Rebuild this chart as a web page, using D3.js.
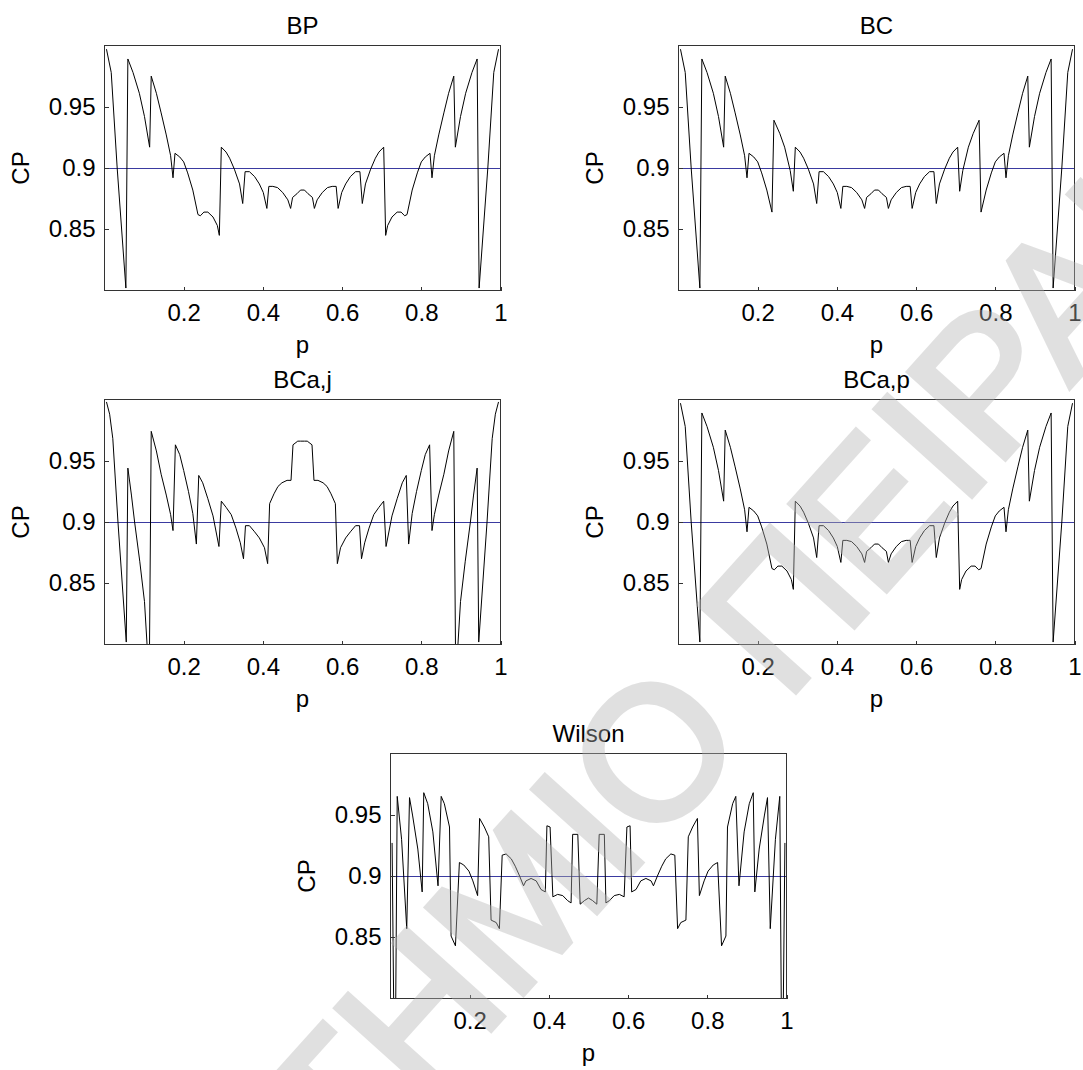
<!DOCTYPE html>
<html>
<head>
<meta charset="utf-8">
<script src="https://cdn.jsdelivr.net/npm/d3@7"></script>
<style>
  body { margin: 0; background: #fff; }
  text { font-family: "Liberation Sans", Arial, sans-serif; }
</style>
</head>
<body>
<div id="chart"></div>
<script>
// ticks and reference level
var xTicks = [0.2, 0.4, 0.6, 0.8, 1];
var yTicks = [0.85, 0.9, 0.95];
var nominal = 0.9;
var titles = ["BP", "BC", "BCa,j", "BCa,p", "Wilson"];

// coverage probability curves, [p, CP]
var bpData = [[0.005,0.997],[0.017,0.978],[0.032,0.900],[0.054,0.802],[0.059,0.989],[0.072,0.978],[0.088,0.961],[0.101,0.942],[0.114,0.917],[0.118,0.975],[0.131,0.961],[0.143,0.945],[0.156,0.927],[0.167,0.910],[0.173,0.892],[0.178,0.912],[0.19,0.909],[0.2,0.905],[0.21,0.896],[0.223,0.882],[0.236,0.862],[0.242,0.861],[0.251,0.864],[0.261,0.864],[0.274,0.860],[0.285,0.853],[0.290,0.845],[0.295,0.917],[0.307,0.913],[0.316,0.908],[0.328,0.899],[0.341,0.887],[0.349,0.871],[0.355,0.897],[0.366,0.897],[0.379,0.893],[0.391,0.887],[0.401,0.880],[0.410,0.867],[0.415,0.885],[0.425,0.885],[0.437,0.884],[0.45,0.880],[0.463,0.874],[0.470,0.867],[0.475,0.876],[0.486,0.879],[0.495,0.882],
  [0.505,0.882],[0.514,0.879],[0.525,0.876],[0.530,0.867],[0.537,0.874],[0.55,0.880],[0.563,0.884],[0.575,0.885],[0.585,0.885],[0.590,0.867],[0.599,0.880],[0.609,0.887],[0.621,0.893],[0.634,0.897],[0.645,0.897],[0.651,0.871],[0.659,0.887],[0.672,0.899],[0.684,0.908],[0.693,0.913],[0.705,0.917],[0.710,0.845],[0.715,0.853],[0.726,0.860],[0.739,0.864],[0.749,0.864],[0.758,0.861],[0.764,0.862],[0.777,0.882],[0.79,0.896],[0.8,0.905],[0.81,0.909],[0.822,0.912],[0.827,0.892],[0.833,0.910],[0.844,0.927],[0.857,0.945],[0.869,0.961],[0.882,0.975],[0.886,0.917],[0.899,0.942],[0.912,0.961],[0.928,0.978],[0.941,0.989],[0.946,0.802],[0.968,0.900],[0.983,0.978],[0.995,0.997]];

var bcData = [[0.005,0.997],[0.017,0.978],[0.032,0.900],[0.054,0.802],[0.059,0.989],[0.072,0.978],[0.088,0.961],[0.101,0.942],[0.114,0.917],[0.118,0.975],[0.131,0.961],[0.143,0.945],[0.156,0.927],[0.167,0.910],[0.173,0.892],[0.178,0.912],[0.19,0.909],[0.2,0.905],[0.21,0.896],[0.223,0.882],[0.236,0.864],[0.241,0.939],[0.256,0.928],[0.268,0.917],[0.282,0.898],[0.290,0.881],[0.295,0.917],[0.307,0.913],[0.316,0.908],[0.328,0.899],[0.341,0.887],[0.349,0.871],[0.355,0.897],[0.366,0.897],[0.379,0.893],[0.391,0.887],[0.401,0.880],[0.410,0.867],[0.415,0.885],[0.425,0.885],[0.437,0.884],[0.45,0.880],[0.463,0.874],[0.470,0.867],[0.475,0.876],[0.486,0.879],[0.495,0.882],
  [0.505,0.882],[0.514,0.879],[0.525,0.876],[0.530,0.867],[0.537,0.874],[0.55,0.880],[0.563,0.884],[0.575,0.885],[0.585,0.885],[0.590,0.867],[0.599,0.880],[0.609,0.887],[0.621,0.893],[0.634,0.897],[0.645,0.897],[0.651,0.871],[0.659,0.887],[0.672,0.899],[0.684,0.908],[0.693,0.913],[0.705,0.917],[0.710,0.881],[0.718,0.898],[0.732,0.917],[0.744,0.928],[0.759,0.939],[0.764,0.864],[0.777,0.882],[0.79,0.896],[0.8,0.905],[0.81,0.909],[0.822,0.912],[0.827,0.892],[0.833,0.910],[0.844,0.927],[0.857,0.945],[0.869,0.961],[0.882,0.975],[0.886,0.917],[0.899,0.942],[0.912,0.961],[0.928,0.978],[0.941,0.989],[0.946,0.802],[0.968,0.900],[0.983,0.978],[0.995,0.997]];

var bcajData = [[0.005,0.998],[0.013,0.988],[0.021,0.968],[0.034,0.900],[0.055,0.802],[0.059,0.944],[0.068,0.922],[0.076,0.900],[0.089,0.868],[0.101,0.835],[0.113,0.770],[0.118,0.974],[0.131,0.958],[0.143,0.939],[0.156,0.922],[0.167,0.906],[0.173,0.893],[0.179,0.963],[0.19,0.955],[0.2,0.942],[0.212,0.925],[0.223,0.907],[0.232,0.882],[0.238,0.938],[0.248,0.932],[0.261,0.919],[0.274,0.905],[0.289,0.880],[0.295,0.917],[0.307,0.912],[0.320,0.906],[0.332,0.895],[0.343,0.883],[0.351,0.870],[0.356,0.897],[0.366,0.897],[0.379,0.892],[0.391,0.887],[0.404,0.879],[0.412,0.866],[0.417,0.915],[0.428,0.923],[0.438,0.929],[0.448,0.932],[0.461,0.934],[0.471,0.934],[0.476,0.963],[0.488,0.966],[0.495,0.966],
  [0.505,0.966],[0.512,0.966],[0.524,0.963],[0.529,0.934],[0.539,0.934],[0.552,0.932],[0.562,0.929],[0.572,0.923],[0.583,0.915],[0.588,0.866],[0.596,0.879],[0.609,0.887],[0.621,0.892],[0.634,0.897],[0.644,0.897],[0.649,0.870],[0.657,0.883],[0.668,0.895],[0.680,0.906],[0.693,0.912],[0.705,0.917],[0.711,0.880],[0.726,0.905],[0.739,0.919],[0.752,0.932],[0.762,0.938],[0.768,0.882],[0.777,0.907],[0.788,0.925],[0.8,0.942],[0.81,0.955],[0.821,0.963],[0.827,0.893],[0.833,0.906],[0.844,0.922],[0.857,0.939],[0.869,0.958],[0.882,0.974],[0.887,0.770],[0.899,0.835],[0.911,0.868],[0.924,0.900],[0.932,0.922],[0.941,0.944],[0.945,0.802],[0.966,0.900],[0.979,0.968],[0.987,0.988],[0.995,0.998]];

var bcapData = [[0.005,0.997],[0.017,0.978],[0.032,0.900],[0.054,0.802],[0.059,0.989],[0.072,0.978],[0.088,0.961],[0.101,0.942],[0.114,0.917],[0.118,0.975],[0.131,0.961],[0.143,0.945],[0.156,0.927],[0.167,0.910],[0.173,0.892],[0.178,0.912],[0.19,0.909],[0.2,0.905],[0.21,0.896],[0.223,0.882],[0.236,0.862],[0.242,0.861],[0.251,0.864],[0.261,0.864],[0.274,0.860],[0.285,0.853],[0.290,0.845],[0.295,0.917],[0.307,0.913],[0.316,0.908],[0.328,0.899],[0.341,0.887],[0.349,0.871],[0.355,0.897],[0.366,0.897],[0.379,0.893],[0.391,0.887],[0.401,0.880],[0.410,0.867],[0.415,0.885],[0.425,0.885],[0.437,0.884],[0.45,0.880],[0.463,0.874],[0.470,0.867],[0.475,0.876],[0.486,0.879],[0.495,0.882],
  [0.505,0.882],[0.514,0.879],[0.525,0.876],[0.530,0.867],[0.537,0.874],[0.55,0.880],[0.563,0.884],[0.575,0.885],[0.585,0.885],[0.590,0.867],[0.599,0.880],[0.609,0.887],[0.621,0.893],[0.634,0.897],[0.645,0.897],[0.651,0.871],[0.659,0.887],[0.672,0.899],[0.684,0.908],[0.693,0.913],[0.705,0.917],[0.710,0.845],[0.715,0.853],[0.726,0.860],[0.739,0.864],[0.749,0.864],[0.758,0.861],[0.764,0.862],[0.777,0.882],[0.79,0.896],[0.8,0.905],[0.81,0.909],[0.822,0.912],[0.827,0.892],[0.833,0.910],[0.844,0.927],[0.857,0.945],[0.869,0.961],[0.882,0.975],[0.886,0.917],[0.899,0.942],[0.912,0.961],[0.928,0.978],[0.941,0.989],[0.946,0.802],[0.968,0.900],[0.983,0.978],[0.995,0.997]];

var wilsonData = [[0.004,0.927],[0.011,0.700],[0.017,0.965],[0.028,0.930],[0.041,0.857],[0.048,0.964],[0.056,0.949],[0.069,0.922],[0.080,0.887],[0.084,0.968],[0.094,0.959],[0.107,0.936],[0.120,0.892],[0.128,0.965],[0.136,0.959],[0.149,0.940],[0.153,0.851],[0.164,0.843],[0.174,0.911],[0.185,0.909],[0.198,0.904],[0.208,0.896],[0.220,0.884],[0.225,0.947],[0.237,0.940],[0.248,0.932],[0.254,0.864],[0.267,0.862],[0.275,0.857],[0.282,0.917],[0.292,0.918],[0.305,0.914],[0.315,0.908],[0.326,0.900],[0.336,0.892],[0.342,0.896],[0.355,0.898],[0.368,0.896],[0.380,0.889],[0.391,0.887],[0.395,0.941],[0.403,0.940],[0.410,0.883],[0.422,0.885],[0.435,0.884],[0.447,0.880],[0.456,0.878],[0.460,0.934],[0.473,0.934],[0.479,0.877],[0.490,0.880],[0.500,0.882],
  [0.510,0.880],[0.521,0.877],[0.527,0.934],[0.540,0.934],[0.544,0.878],[0.553,0.880],[0.565,0.884],[0.578,0.885],[0.590,0.883],[0.597,0.940],[0.605,0.941],[0.609,0.887],[0.620,0.889],[0.632,0.896],[0.645,0.898],[0.658,0.896],[0.664,0.892],[0.674,0.900],[0.685,0.908],[0.695,0.914],[0.708,0.918],[0.718,0.917],[0.725,0.857],[0.733,0.862],[0.746,0.864],[0.752,0.932],[0.763,0.940],[0.775,0.947],[0.780,0.884],[0.792,0.896],[0.802,0.904],[0.815,0.909],[0.826,0.911],[0.836,0.843],[0.847,0.851],[0.851,0.940],[0.864,0.959],[0.872,0.965],[0.880,0.892],[0.893,0.936],[0.906,0.959],[0.916,0.968],[0.920,0.887],[0.931,0.922],[0.944,0.949],[0.952,0.964],[0.959,0.857],[0.972,0.930],[0.983,0.965],[0.989,0.700],[0.996,0.927]];

var watermarkWords = ["ΠΑΝΕΠΙΣΤΗΜΙΟ", "ΠΕΙΡΑΙΑ"];

var svgWidth = 1083;
var svgHeight = 1070;
var plotW = 396;
var plotH = 245;

var panels = [
  { title: titles[0], data: bpData,     left: 104.5, top: 45.5 },
  { title: titles[1], data: bcData,     left: 678.5, top: 45.5 },
  { title: titles[2], data: bcajData,   left: 104.5, top: 399.5 },
  { title: titles[3], data: bcapData,   left: 678.5, top: 399.5 },
  { title: titles[4], data: wilsonData, left: 390.5, top: 753.5 }
];

var svg = d3.select("#chart")
  .append("svg")
  .attr("width", svgWidth)
  .attr("height", svgHeight);

var xScale = d3.scaleLinear().domain([0, 1]).range([0, plotW]);
var yScale = d3.scaleLinear().domain([0.8, 1]).range([plotH, 0]);

var line = d3.line()
  .x(d => xScale(d[0]))
  .y(d => yScale(d[1]));

panels.forEach(function(panel, i) {
  var g = svg.append("g")
    .attr("transform", `translate(${panel.left},${panel.top})`);

  g.append("clipPath")
    .attr("id", "clip" + i)
    .append("rect")
    .attr("width", plotW)
    .attr("height", plotH);

  // nominal level
  g.append("line")
    .attr("x1", 0)
    .attr("x2", plotW)
    .attr("y1", Math.round(yScale(nominal)))
    .attr("y2", Math.round(yScale(nominal)))
    .attr("stroke", "#3a3aa0")
    .attr("stroke-width", 1);

  g.append("path")
    .datum(panel.data)
    .attr("clip-path", `url(#clip${i})`)
    .attr("d", line)
    .attr("fill", "none")
    .attr("stroke", "#000")
    .attr("stroke-width", 1);

  g.append("rect")
    .attr("width", plotW)
    .attr("height", plotH)
    .attr("fill", "none")
    .attr("stroke", "#333")
    .attr("shape-rendering", "crispEdges");

  var xAxis = g.append("g")
    .attr("transform", `translate(0,${plotH})`)
    .call(d3.axisBottom(xScale).tickValues(xTicks).tickSize(-4).tickPadding(13).tickFormat(d3.format("")));

  var yAxis = g.append("g")
    .call(d3.axisLeft(yScale).tickValues(yTicks).tickSize(-4).tickPadding(9).tickFormat(d3.format("")));

  [xAxis, yAxis].forEach(function(ax) {
    ax.select(".domain").remove();
    ax.selectAll("line").attr("stroke", "#333").attr("shape-rendering", "crispEdges");
    ax.selectAll("text")
      .attr("font-family", "Liberation Sans, Arial, sans-serif")
      .attr("font-size", "24px")
      .attr("fill", "#000");
  });

  g.append("text")
    .attr("x", plotW / 2)
    .attr("y", -12)
    .attr("text-anchor", "middle")
    .attr("font-size", "24px")
    .text(panel.title);

  g.append("text")
    .attr("x", plotW / 2)
    .attr("y", plotH + 62)
    .attr("text-anchor", "middle")
    .attr("font-size", "24px")
    .text("p");

  g.append("text")
    .attr("transform", `translate(-84,${plotH / 2}) rotate(-90)`)
    .attr("text-anchor", "middle")
    .attr("dy", "0.35em")
    .attr("font-size", "24px")
    .text("CP");
});

// watermark, drawn over the plots
var wm = svg.append("g")
  .attr("transform", "translate(768,722) rotate(-48)")
  .attr("opacity", 0.4);

wm.selectAll("text")
  .data(watermarkWords)
  .enter()
  .append("text")
  .attr("x", (d, i) => i === 0 ? -26 : 26)
  .attr("text-anchor", (d, i) => i === 0 ? "end" : "start")
  .attr("font-size", "188px")
  .attr("fill", "#b4b4b4")
  .attr("stroke", "#b4b4b4")
  .attr("stroke-width", 6)
  .attr("stroke-linejoin", "miter")
  .text(d => d);
</script>
</body>
</html>
